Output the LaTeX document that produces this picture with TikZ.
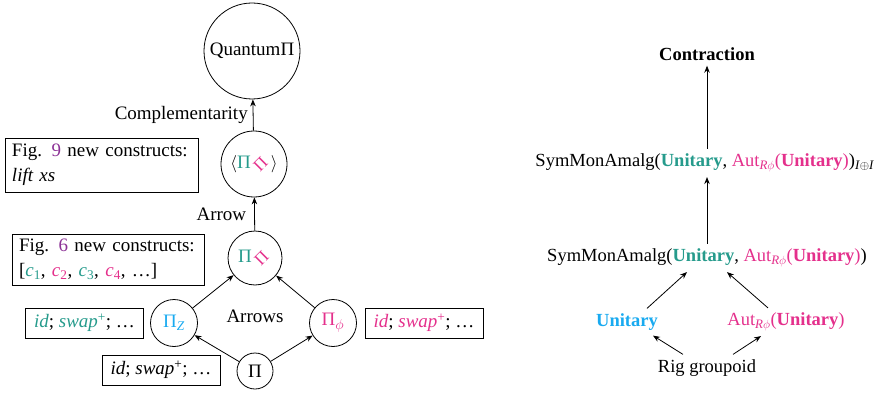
\documentclass[tikz,border=0pt]{standalone}
\usepackage{fontspec}
\setmainfont{Liberation Serif}
\usepackage{graphicx}
\usetikzlibrary{arrows.meta,calc}
\definecolor{cteal}{RGB}{38,155,140}
\definecolor{cmag}{RGB}{228,48,140}
\definecolor{ccyan}{RGB}{25,170,240}
\definecolor{cpurp}{RGB}{140,50,150}
\newcommand{\rPi}{\kern1.5pt\raisebox{-1pt}{\rotatebox[origin=c]{45}{\fontsize{17}{17}\selectfont Π}}\kern2pt}
\begin{document}
\begin{tikzpicture}[x=1pt,y=-1pt,font=\fontsize{19}{25}\selectfont,
  circ/.style={draw, circle, inner sep=0pt, line width=0.8pt},
  infobox/.style={draw, rectangle, line width=0.8pt, align=left, inner xsep=7pt, inner ysep=0pt},
  smallbox/.style={draw, rectangle, line width=0.8pt, inner xsep=8pt, inner ysep=0pt, minimum width=118pt, minimum height=30pt},
  arr/.style={-{Stealth[length=7pt,width=5.5pt]}, line width=0.8pt},
  lbl/.style={inner sep=5pt, font=\fontsize{18.5}{22}\selectfont}]
\useasboundingbox (0,0) rectangle (883,393);
% left part
\node[circ, minimum size=96pt] (qp) at (252,51) {QuantumΠ};
\node[circ, minimum size=66pt] (cpp) at (254,164) {$\langle${\color{cteal}Π}{\color{cmag}\rPi}$\rangle$};
\node[circ, minimum size=54pt] (pp) at (255,258) {{\color{cteal}Π}{\color{cmag}\rPi}};
\node[circ, minimum size=47pt] (pz) at (174,323) {\color{ccyan}Π\textsubscript{\textit{Z}}};
\node[circ, minimum size=47pt] (pf) at (333,323) {\color{cmag}Π\textsubscript{$\phi$}};
\node[circ, minimum size=36pt] (p) at (255,371) {Π};
\draw[arr] (cpp) -- node[left, inner sep=5pt]{Complementarity} (qp);
\draw[arr] (pp) -- node[left, inner sep=8pt]{Arrow} (cpp);
\draw[arr] (p) -- (pz);
\draw[arr] (p) -- (pf);
\draw[arr] (pz) -- (pp);
\draw[arr] (pf) -- (pp);
\node (arrows) at (255,316) {Arrows};
\node[infobox, text width=179pt, minimum height=54pt] (b9) at (101.5,165)
  {Fig. {\color{cpurp}9} new constructs:\\ \textit{lift xs}};
\node[infobox, text width=178pt, minimum height=51pt] (b6) at (108,259.5)
  {Fig. {\color{cpurp}6} new constructs:\\ {[}{\color{cteal}\textit{c}\textsubscript{1}}, {\color{cmag}\textit{c}\textsubscript{2}}, {\color{cteal}\textit{c}\textsubscript{3}}, {\color{cmag}\textit{c}\textsubscript{4}}, \ldots]};
\node[smallbox] (bz) at (84.5,323)
  {{\color{cteal}\textit{id}}; {\color{cteal}\textit{swap}\textsuperscript{+}}; \ldots};
\node[smallbox] (bp) at (161,370)
  {\textit{id}; \textit{swap}\textsuperscript{+}; \ldots};
\node[smallbox] (bf) at (424,323)
  {{\color{cmag}\textit{id}}; {\color{cmag}\textit{swap}\textsuperscript{+}}; \ldots};
% right part
\node[lbl] (contr) at (707,54) {\textbf{Contraction}};
\node[lbl] (sym1) at (705,163) {SymMonAmalg({\color{cteal}\textbf{Unitary}}, {\color{cmag}Aut\textsubscript{\textit{R}$\phi$}(\textbf{Unitary})})\textsubscript{\textit{I}$\oplus$\textit{I}}};
\node[lbl] (sym2) at (707,258) {SymMonAmalg({\color{cteal}\textbf{Unitary}}, {\color{cmag}Aut\textsubscript{\textit{R}$\phi$}(\textbf{Unitary})})};
\node[lbl] (unit) at (627,322) {\color{ccyan}\textbf{Unitary}};
\node[lbl] (aut) at (786,322) {\color{cmag}Aut\textsubscript{\textit{R}$\phi$}(\textbf{Unitary})};
\node[lbl] (rig) at (707,368) {Rig groupoid};
\draw[arr] (sym1.north -| contr) -- (contr.south);
\draw[arr] (sym2.north -| contr) -- (sym1.south -| contr);
\draw[arr] ($(unit.north)+(20,0)$) -- ($(sym2.south)+(-20,0)$);
\draw[arr] ($(aut.north)+(-18,0)$) -- ($(sym2.south)+(20,0)$);
\draw[arr] ($(rig.north)+(-24,0)$) -- ($(unit.south)+(26,0)$);
\draw[arr] ($(rig.north)+(26,0)$) -- ($(aut.south)+(-25,0)$);
\end{tikzpicture}
\end{document}
